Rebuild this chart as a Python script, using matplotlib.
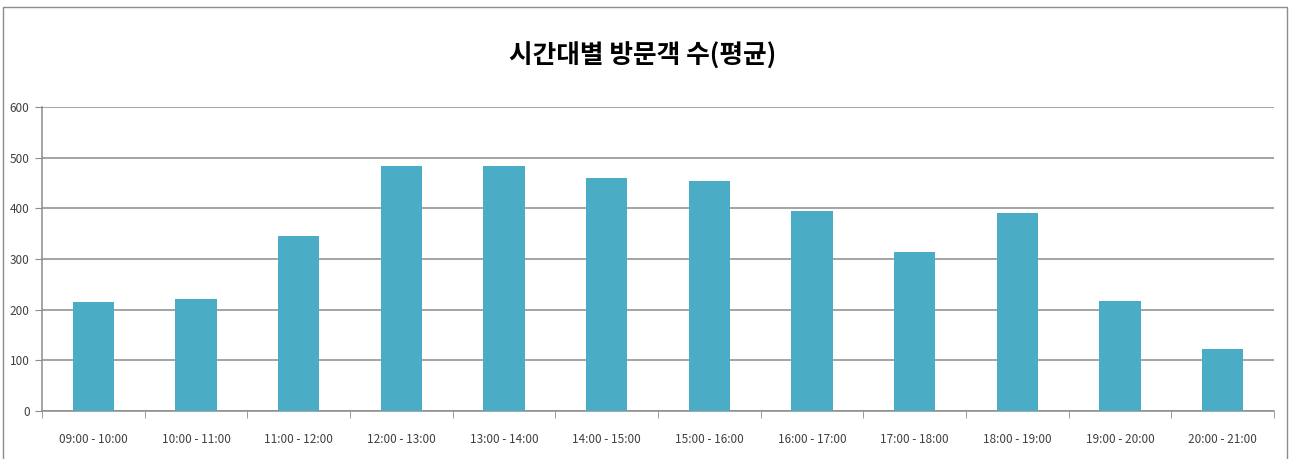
import matplotlib
matplotlib.use("Agg")
import matplotlib.pyplot as plt
import numpy as np
from matplotlib.patches import Rectangle

categories = ["09:00 - 10:00", "10:00 - 11:00", "11:00 - 12:00", "12:00 - 13:00",
              "13:00 - 14:00", "14:00 - 15:00", "15:00 - 16:00", "16:00 - 17:00",
              "17:00 - 18:00", "18:00 - 19:00", "19:00 - 20:00", "20:00 - 21:00"]
visitors = [215, 222, 346, 483, 483, 460, 454, 395, 314, 391, 217, 123]
y_ticks = [0, 100, 200, 300, 400, 500, 600]
title = "시간대별 방문객 수(평균)"

plt.rcParams['font.family'] = ['Noto Sans CJK KR', 'DejaVu Sans']

fig = plt.figure(figsize=(12.9, 4.59), dpi=100)
ax = fig.add_axes([42/1290, 1-411/459, (1274-42)/1290, (411-107)/459])

x = np.arange(len(categories))
ax.bar(x, visitors, width=0.4, color="#4BACC6", zorder=3)

ax.set_xlim(-0.5, len(categories)-0.5)
ax.set_ylim(0, 600)
ax.set_yticks(y_ticks)
ax.set_yticklabels([str(v) for v in y_ticks], fontsize=8.5, color="#404040")
ax.yaxis.grid(True, color="#8c8c8c", linewidth=1.1, zorder=0)
ax.set_xticks(x)
ax.set_xticklabels(categories, fontsize=8.5, color="#404040")
ax.tick_params(axis='x', which='major', length=0, pad=16)
ax.set_xticks(np.arange(-0.5, len(categories), 1), minor=True)
ax.tick_params(axis='x', which='minor', length=5, color="#8c8c8c", direction='out')
ax.tick_params(axis='y', length=5, color="#8c8c8c", pad=4)

for s in ["top", "right"]:
    ax.spines[s].set_visible(False)
for s in ["left", "bottom"]:
    ax.spines[s].set_color("#8c8c8c")
    ax.spines[s].set_linewidth(1.1)

fig.text(643/1290, 1-56/459, title, ha="center", va="center",
         fontsize=18.5, fontweight="bold", color="#000000")

fig.patches.append(Rectangle((3/1290, -0.01), (1287-3)/1290, 1-7/459+0.01,
                             transform=fig.transFigure, fill=False,
                             edgecolor="#8c8c8c", linewidth=1))

fig.savefig("out.png", dpi=100)
